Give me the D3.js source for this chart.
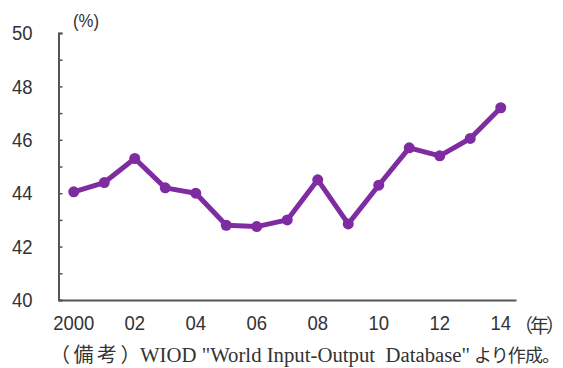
<!DOCTYPE html>
<html>
<head>
<meta charset="utf-8">
<script src="https://cdn.jsdelivr.net/npm/d3@7"></script>
<style>
  html, body { margin: 0; padding: 0; background: #fff; }
  svg { display: block; }
</style>
</head>
<body>
<svg id="chart" width="563" height="368"></svg>
<script>
// Yearly share (%)
const years = ["2000","2001","2002","2003","2004","2005","2006","2007","2008","2009","2010","2011","2012","2013","2014"];
const values = [44.05, 44.4, 45.3, 44.2, 44.0, 42.8, 42.75, 43.0, 44.5, 42.85, 44.3, 45.7, 45.4, 46.05, 47.2];
const xTickLabels = ["2000", "02", "04", "06", "08", "10", "12", "14"];
const yTicks = [40, 42, 44, 46, 48, 50];

const svg = d3.select("#chart");
const plot = { left: 58.5, right: 516, top: 33, bottom: 300 };
const labelFont = "'Liberation Sans', Arial, sans-serif";
const cjkFont = "'Noto Sans CJK JP', sans-serif";
const ink = "#333";
const narrow = "scale(0.88,1)";

const x = d3.scaleBand().domain(years).range([plot.left, plot.right]);
const y = d3.scaleLinear().domain([40, 50]).range([plot.bottom, plot.top]);
const cx = d => x(d) + x.bandwidth() / 2;

// Y axis with a tick at every unit, labels on even values
const yAxis = d3.axisLeft(y)
  .tickValues(d3.range(40, 51, 1))
  .tickSize(-4)
  .tickFormat(d => yTicks.includes(d) ? d : "");
const gy = svg.append("g").attr("transform", `translate(${plot.left},0)`).call(yAxis);
gy.select(".domain").attr("stroke", "#555").attr("stroke-width", 2);
gy.selectAll(".tick line").attr("stroke", "#555").attr("stroke-width", 1.5);
gy.selectAll(".tick text")
  .attr("x", 0)
  .attr("transform", `translate(-26,0) ${narrow}`)
  .attr("text-anchor", "end")
  .attr("fill", ink)
  .style("font-family", labelFont)
  .style("font-size", "21px");

// X axis baseline with year labels
const xAxis = d3.axisBottom(x)
  .tickSize(0)
  .tickPadding(15)
  .tickFormat(d => {
    const i = years.indexOf(d);
    return i % 2 === 0 ? xTickLabels[i / 2] : "";
  });
const gx = svg.append("g").attr("transform", `translate(0,${plot.bottom})`).call(xAxis);
gx.select(".domain").attr("stroke", "#555").attr("stroke-width", 2);
gx.selectAll(".tick text")
  .attr("transform", narrow)
  .attr("fill", ink)
  .style("font-family", labelFont)
  .style("font-size", "21px");

// Unit labels
svg.append("text")
  .attr("transform", `translate(73,27) ${narrow}`)
  .attr("fill", ink)
  .style("font-family", labelFont)
  .style("font-size", "19px")
  .text("(%)");
svg.append("text")
  .attr("x", 514).attr("y", 333)
  .attr("fill", ink)
  .attr("letter-spacing", -3)
  .style("font-family", cjkFont)
  .style("font-size", "19px")
  .text("（年）");

// Line and markers
const color = "#7F2CA3";
const line = d3.line().x((d, i) => cx(years[i])).y(d => y(d));
svg.append("path")
  .datum(values)
  .attr("d", line)
  .attr("fill", "none")
  .attr("stroke", color)
  .attr("stroke-width", 5)
  .attr("stroke-linejoin", "round");
svg.selectAll("circle.pt")
  .data(values)
  .join("circle")
  .attr("class", "pt")
  .attr("cx", (d, i) => cx(years[i]))
  .attr("cy", d => y(d))
  .attr("r", 5.5)
  .attr("fill", color);

// Source note
const note = svg.append("g").attr("fill", ink);
note.append("text")
  .attr("x", 50).attr("y", 362)
  .attr("letter-spacing", 3.5)
  .style("font-family", cjkFont)
  .style("font-size", "20px")
  .text("（備考）");
note.append("text")
  .attr("x", 140).attr("y", 362)
  .attr("textLength", 330)
  .attr("lengthAdjust", "spacingAndGlyphs")
  .style("white-space", "pre")
  .style("font-family", "'Liberation Serif', 'Times New Roman', serif")
  .style("font-size", "20px")
  .text("WIOD \"World Input-Output  Database\"");
note.append("text")
  .attr("x", 474).attr("y", 362)
  .attr("textLength", 86)
  .attr("lengthAdjust", "spacing")
  .style("font-family", cjkFont)
  .style("font-size", "18px")
  .text("より作成。");
</script>
</body>
</html>
